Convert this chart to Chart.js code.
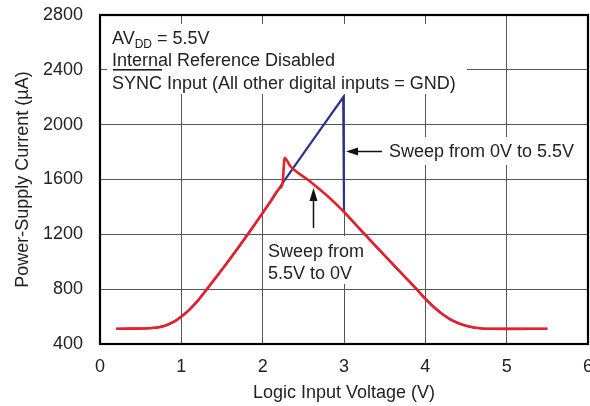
<!DOCTYPE html>
<html>
<head>
<meta charset="utf-8">
<script src="https://cdn.jsdelivr.net/npm/chart.js@4"></script>
<style>
  html, body { margin: 0; padding: 0; background: #fff; }
</style>
</head>
<body>
<canvas id="chart" width="590" height="406"></canvas>
<script>
// sweep from 5.5V down to 0V (red)
const redX = [0.2, 0.4, 0.6, 0.7, 0.8, 0.9, 0.95, 1.0, 1.05, 1.1, 1.2, 1.3, 1.4, 1.5, 1.6, 1.7,
              1.8, 1.9, 2.0, 2.1, 2.2, 2.245, 2.27, 2.34, 2.58, 2.83, 3.0, 3.1, 3.2, 3.3, 3.4,
              3.5, 3.6, 3.7, 3.8, 3.9, 4.0, 4.1, 4.2, 4.3, 4.4, 4.5, 4.6, 4.7, 4.8, 5.0, 5.3, 5.5];
const redY = [511, 512, 515, 520, 533, 560, 578, 600, 624, 651, 714, 789, 866, 943, 1022, 1103,
              1186, 1270, 1356, 1443, 1532, 1573, 1757, 1697, 1588, 1462, 1364, 1300, 1236, 1172, 1108,
              1045, 982, 920, 858, 795, 730, 672, 622, 582, 553, 533, 520, 513, 511, 510, 511, 511];
// sweep from 0V up to 5.5V (blue)
const blueX = [0.2, 0.4, 0.6, 0.7, 0.8, 0.9, 0.95, 1.0, 1.05, 1.1, 1.2, 1.3, 1.4, 1.5, 1.6, 1.7,
               1.8, 1.9, 2.0, 2.1, 2.2, 2.245, 2.6, 2.99, 3.0, 3.1, 3.2, 3.3, 3.4,
               3.5, 3.6, 3.7, 3.8, 3.9, 4.0, 4.1, 4.2, 4.3, 4.4, 4.5, 4.6, 4.7, 4.8, 5.0, 5.3, 5.5];
const blueY = [511, 512, 515, 520, 533, 560, 578, 600, 624, 651, 714, 789, 866, 943, 1022, 1103,
               1186, 1270, 1356, 1443, 1532, 1573, 1872, 2200, 1364, 1300, 1236, 1172, 1108,
               1045, 982, 920, 858, 795, 730, 672, 622, 582, 553, 533, 520, 513, 511, 510, 511, 511];

const xTicks = [0, 1, 2, 3, 4, 5, 6];
const yTicks = [400, 800, 1200, 1600, 2000, 2400, 2800];

const FONT = '"Liberation Sans", Arial, Helvetica, sans-serif';
const TEXT = '#222';

function pts(xs, ys) {
  return xs.map((x, i) => ({ x: x, y: ys[i] }));
}

// white label boxes, notes, arrows and the black frame
const notes = {
  id: 'notes',
  beforeDatasetsDraw(chart) {
    const ctx = chart.ctx;
    const a = chart.chartArea;
    ctx.save();

    ctx.fillStyle = '#fff';
    ctx.fillRect(107, 24, 360, 70);
    ctx.fillRect(386, 137, 196, 28);
    ctx.fillRect(266, 236, 104, 48);

    ctx.fillStyle = TEXT;
    ctx.textBaseline = 'alphabetic';
    ctx.font = '18px ' + FONT;
    ctx.fillText('AV', 112, 44);
    let w = ctx.measureText('AV').width;
    ctx.font = '12px ' + FONT;
    ctx.fillText('DD', 112 + w, 48);
    let w2 = ctx.measureText('DD').width;
    ctx.font = '18px ' + FONT;
    ctx.fillText(' = 5.5V', 112 + w + w2, 44);
    ctx.fillText('Internal Reference Disabled', 112, 66);
    ctx.fillText('SYNC Input (All other digital inputs = GND)', 112, 89);
    const sw = ctx.measureText('SYNC').width;
    ctx.fillRect(113, 69, sw - 1, 1.6);

    ctx.fillText('Sweep from 0V to 5.5V', 389, 157);
    ctx.fillText('Sweep from', 268, 257);
    ctx.fillText('5.5V to 0V', 268, 279);

    // arrows
    ctx.strokeStyle = '#111';
    ctx.lineWidth = 1.5;
    ctx.beginPath();
    ctx.moveTo(382, 151.5);
    ctx.lineTo(356, 151.5);
    ctx.moveTo(313.5, 228);
    ctx.lineTo(313.5, 200);
    ctx.stroke();
    ctx.fillStyle = '#111';
    ctx.beginPath();
    ctx.moveTo(346, 151.5);
    ctx.lineTo(358, 147.5);
    ctx.lineTo(358, 155.5);
    ctx.closePath();
    ctx.fill();
    ctx.beginPath();
    ctx.moveTo(313.5, 188);
    ctx.lineTo(309.5, 201);
    ctx.lineTo(317.5, 201);
    ctx.closePath();
    ctx.fill();

    // frame
    ctx.strokeStyle = '#000';
    ctx.lineWidth = 2.2;
    ctx.strokeRect(a.left, a.top, a.right - a.left, a.bottom - a.top);
    ctx.restore();
  }
};

new Chart(document.getElementById('chart'), {
  type: 'line',
  data: {
    datasets: [
      {
        label: 'Sweep from 5.5V to 0V',
        data: pts(redX, redY),
        borderColor: '#e8202a',
        borderWidth: 2.6,
        pointRadius: 0,
        cubicInterpolationMode: 'monotone'
      },
      {
        label: 'Sweep from 0V to 5.5V',
        data: pts(blueX, blueY),
        borderColor: '#2a3192',
        borderWidth: 2.2,
        pointRadius: 0,
        tension: 0
      }
    ]
  },
  options: {
    responsive: false,
    animation: false,
    layout: { padding: { top: 15, right: 2, left: 0, bottom: 0 } },
    plugins: { legend: { display: false }, tooltip: { enabled: false } },
    scales: {
      x: {
        type: 'linear',
        min: 0, max: 6,
        afterBuildTicks: s => { s.ticks = xTicks.map(v => ({ value: v })); },
        afterFit: s => { s.height = 62; s.paddingLeft = 0; s.paddingRight = 0; },
        grid: { color: '#555', lineWidth: 1, drawTicks: false },
        border: { display: false },
        ticks: { color: TEXT, font: { family: FONT, size: 18 }, padding: 12, maxRotation: 0,
                 callback: v => String(v) },
        title: { display: true, text: 'Logic Input Voltage (V)', color: TEXT,
                 font: { family: FONT, size: 18 }, padding: { top: 0, bottom: 2 } }
      },
      y: {
        min: 400, max: 2800,
        afterBuildTicks: s => { s.ticks = yTicks.map(v => ({ value: v })); },
        afterFit: s => { s.width = 100; s.paddingTop = 0; s.paddingBottom = 0; },
        grid: { color: '#555', lineWidth: 1, drawTicks: false },
        border: { display: false },
        ticks: { color: TEXT, font: { family: FONT, size: 18 }, padding: 17,
                 callback: v => String(v) },
        title: { display: true, text: 'Power-Supply Current (\u00B5A)', color: TEXT,
                 font: { family: FONT, size: 18 }, padding: { top: 12, bottom: 0 } }
      }
    }
  },
  plugins: [notes]
});
</script>
</body>
</html>
